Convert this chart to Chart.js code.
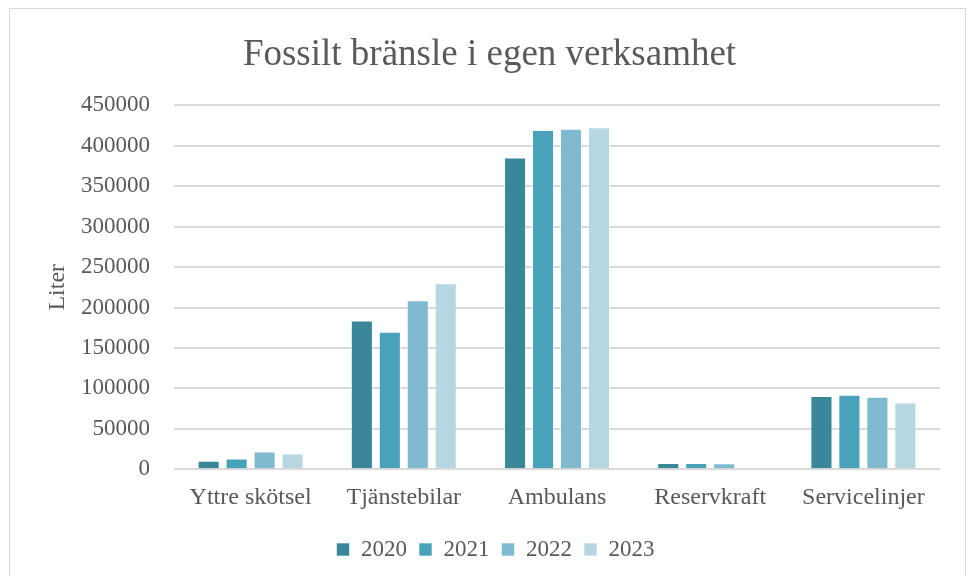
<!DOCTYPE html>
<html>
<head>
<meta charset="utf-8">
<script src="https://cdn.jsdelivr.net/npm/chart.js@4"></script>
<style>
    html, body { margin: 0; padding: 0; background: #fff; }
    #wrap { position: relative; width: 969px; height: 576px; overflow: hidden; }
    #frame { position: absolute; left: 9px; top: 8px; width: 957px; height: 600px; border: 1px solid #d9d9d9; box-sizing: border-box; }
    #fuelChart { position: absolute; left: 0; top: 0; }
</style>
</head>
<body>
<div id="wrap">
    <div id="frame"></div>
    <canvas id="fuelChart" width="969" height="576"></canvas>
</div>
<script>
const categories = ['Yttre skötsel', 'Tjänstebilar', 'Ambulans', 'Reservkraft', 'Servicelinjer'];
const years = ['2020', '2021', '2022', '2023'];
const values2020 = [10300, 184000, 385500, 7800, 90500];
const values2021 = [13300, 170000, 419500, 7800, 92000];
const values2022 = [22000, 209000, 421000, 7500, 89700];
const values2023 = [19500, 230000, 423000, 1500, 82600];
const yearColors = ['#3a8799', '#47a2ba', '#7fbad0', '#b6d6e2'];

const serif = "'Liberation Serif', 'Times New Roman', serif";
const textColor = '#595959';

// nudge title and legend a bit to the right, like the original
const blockShift = {
    id: 'blockShift',
    afterLayout(chart) {
        if (chart.legend) {
            chart.legend.left += 15;
            chart.legend.right += 15;
        }
        if (chart.titleBlock) {
            chart.titleBlock.left += 9;
            chart.titleBlock.right += 9;
        }
    }
};

const ctx = document.getElementById('fuelChart').getContext('2d');
const fuelChart = new Chart(ctx, {
    type: 'bar',
    data: {
        labels: categories,
        datasets: [values2020, values2021, values2022, values2023].map((vals, i) => ({
            label: years[i],
            data: vals,
            backgroundColor: yearColors[i],
            borderColor: 'rgba(255,255,255,0.6)',
            borderWidth: 1,
            categoryPercentage: 0.73,
            barPercentage: 0.79
        }))
    },
    options: {
        responsive: false,
        animation: false,
        layout: {
            padding: { left: 21, right: 29, top: 20, bottom: 5 }
        },
        plugins: {
            title: {
                display: true,
                text: 'Fossilt bränsle i egen verksamhet',
                color: textColor,
                font: { family: serif, size: 37, weight: 'normal' },
                padding: { top: 13, bottom: 28 }
            },
            legend: {
                position: 'bottom',
                labels: {
                    color: textColor,
                    font: { family: serif, size: 23 },
                    boxWidth: 13,
                    boxHeight: 13,
                    padding: 12
                }
            },
            tooltip: { enabled: false }
        },
        scales: {
            x: {
                grid: { display: false },
                border: { display: false },
                ticks: {
                    color: textColor,
                    font: { family: serif, size: 24 },
                    padding: 6
                },
                afterFit: scale => { scale.height += 8; }
            },
            y: {
                min: 0,
                max: 450000,
                grid: { color: '#d9d9d9', lineWidth: 2, drawTicks: false },
                border: { display: false },
                ticks: {
                    stepSize: 50000,
                    color: textColor,
                    font: { family: serif, size: 23 },
                    padding: 24,
                    callback: value => String(value)
                },
                title: {
                    display: true,
                    text: 'Liter',
                    color: textColor,
                    font: { family: serif, size: 24, lineHeight: 1 },
                    padding: { top: 25, bottom: -13 }
                }
            }
        }
    },
    plugins: [blockShift]
});
</script>
</body>
</html>
